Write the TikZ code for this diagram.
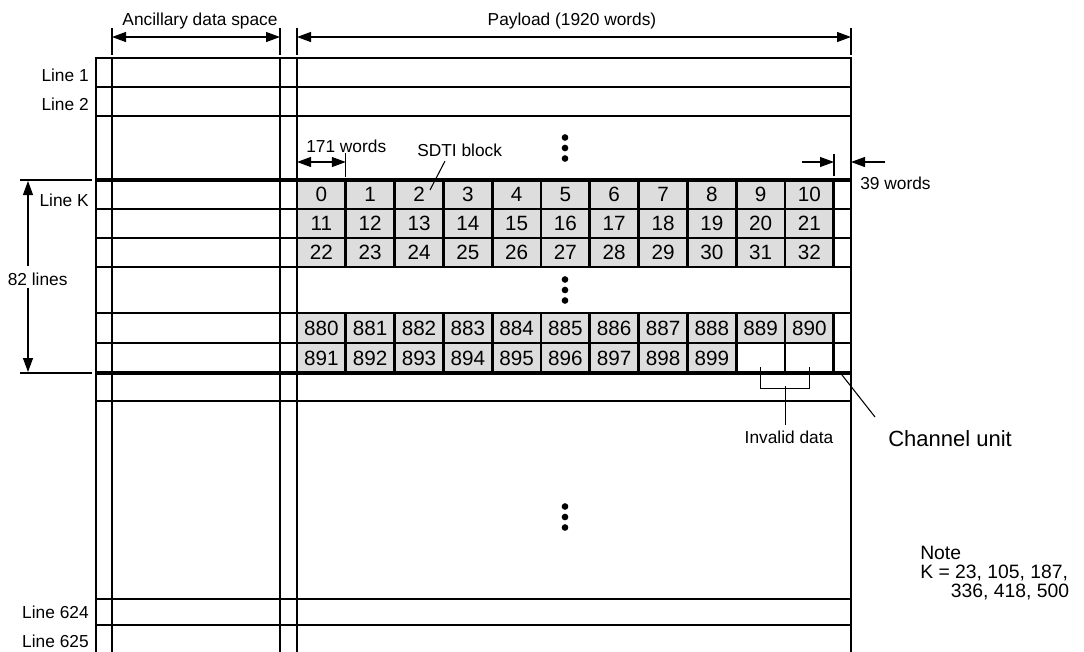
\documentclass[tikz,border=0pt]{standalone}
\usepackage{fontspec}
\setmainfont{Liberation Sans}
\usetikzlibrary{arrows.meta}
\definecolor{cellgray}{RGB}{221,221,221}
\begin{document}
\begin{tikzpicture}[x=0.75pt,y=-0.75pt,
  gridline/.style={line width=1.2pt},
  frameline/.style={line width=1.8pt},
  bandline/.style={line width=2.4pt},
  dimline/.style={line width=0.8pt},
  onearrow/.style={dimline,-{Triangle[length=10.5pt,width=7.5pt]}},
  twoarrow/.style={dimline,{Triangle[length=10.5pt,width=7.5pt]}-{Triangle[length=10.5pt,width=7.5pt]}},
  cell/.style={draw,line width=2pt,fill=cellgray,minimum width=36.6pt,minimum height=21.75pt,
    inner sep=0pt,text height=11.1pt,text depth=0pt,font=\fontsize{15.5}{18}\selectfont},
  lowcell/.style={cell,minimum height=22.5pt},
  lbl/.style={font=\fontsize{13}{15}\selectfont,inner sep=0pt},
  dot/.style={circle,fill=black,inner sep=0pt,minimum size=5pt},
]
\useasboundingbox (0,0) rectangle (1084,651);

% horizontal grid lines
\foreach \yy in {87,116,209,238,267,313,343,401,599,625}{
  \draw[gridline] (96,\yy) -- (851,\yy);
}
% vertical grid lines
\foreach \xx in {112,280,297}{
  \draw[gridline] (\xx,58) -- (\xx,652);
}
% outer frame
\draw[frameline] (96,652) -- (96,58) -- (851,58) -- (851,652);

% cells
\foreach \i in {0,...,10}{
  \pgfmathsetmacro\cx{297+(\i+0.5)*48.8}
  \pgfmathtruncatemacro\na{\i}
  \pgfmathtruncatemacro\nb{\i+11}
  \pgfmathtruncatemacro\nc{\i+22}
  \pgfmathtruncatemacro\nd{\i+880}
  \node[cell] (ra\i) at (\cx,194.5) {\na};
  \node[cell] (rb\i) at (\cx,223.5) {\nb};
  \node[cell] (rc\i) at (\cx,252.5) {\nc};
  \node[lowcell] (rd\i) at (\cx,328) {\nd};
}
\foreach \i in {0,...,8}{
  \pgfmathsetmacro\cx{297+(\i+0.5)*48.8}
  \pgfmathtruncatemacro\ne{\i+891}
  \node[lowcell] (re\i) at (\cx,358) {\ne};
}
\node[lowcell,fill=white] (re9) at ({297+9.5*48.8},358) {};
\node[lowcell,fill=white] (re10) at ({297+10.5*48.8},358) {};

% band lines
\draw[bandline] (96,180) -- (851,180);
\draw[bandline] (96,373) -- (851,373);

% line labels
\node[lbl,anchor=base east] (l1) at (89,81.5) {Line 1};
\node[lbl,anchor=base east] (l2) at (89,110.5) {Line 2};
\node[lbl,anchor=base east] (lk) at (89,206) {Line K};
\node[lbl,anchor=base east] (l624) at (89,618) {Line 624};
\node[lbl,anchor=base east] (l625) at (89,647) {Line 625};

% top dimensions
\draw[dimline] (112,28) -- (112,55);
\draw[dimline] (280,28) -- (280,55);
\draw[dimline] (297,28) -- (297,55);
\draw[dimline] (851,28) -- (851,55);
\coordinate (ancL) at (112,37);
\coordinate (ancR) at (280,37);
\coordinate (payL) at (297,37);
\coordinate (payR) at (851,37);
\draw[twoarrow] (ancL) -- (ancR);
\draw[twoarrow] (payL) -- (payR);
\node[lbl,anchor=base] (anc) at (200,25) {Ancillary data space};
\node[lbl,anchor=base] (pay) at (572,25) {Payload (1920 words)};

% 171 words
\draw[dimline] (345.8,153) -- (345.8,177);
\coordinate (w171L) at (297,162);
\coordinate (w171R) at (345.8,162);
\draw[twoarrow] (w171L) -- (w171R);
\node[lbl,anchor=base west] (t171) at (306,152) {171 words};

% SDTI block
\node[lbl,anchor=base west] (sdti) at (417,156) {SDTI block};
\coordinate (sdtiA) at (445,161);
\coordinate (sdtiB) at (430,190);
\draw[dimline] (sdtiA) -- (sdtiB);

% 39 words
\draw[dimline] (834,154) -- (834,176);
\coordinate (w39a) at (802,162);
\coordinate (w39b) at (834,162);
\coordinate (w39c) at (885,162);
\coordinate (w39d) at (851,162);
\draw[onearrow] (w39a) -- (w39b);
\draw[onearrow] (w39c) -- (w39d);
\node[lbl,anchor=base west] (t39) at (860,189) {39 words};

% 82 lines
\draw[dimline] (20,180) -- (92,180);
\draw[dimline] (20,373) -- (92,373);
\node[lbl,anchor=base west] (t82) at (7.5,285) {82 lines};
\coordinate (k82a) at (28,266);
\coordinate (k82b) at (28,181);
\coordinate (k82c) at (28,288);
\coordinate (k82d) at (28,372);
\draw[onearrow] (k82a) -- (k82b);
\draw[onearrow] (k82c) -- (k82d);

% dots
\node[dot] (d1) at (565,137.5) {};
\node[dot] (d2) at (565,148) {};
\node[dot] (d3) at (565,158.5) {};
\node[dot] (d4) at (565,279.5) {};
\node[dot] (d5) at (565,290) {};
\node[dot] (d6) at (565,300.5) {};
\node[dot] (d7) at (565,506.5) {};
\node[dot] (d8) at (565,517) {};
\node[dot] (d9) at (565,527.5) {};

% invalid data bracket
\coordinate (inv1) at (re9.center);
\coordinate (inv2) at (re10.center);
\draw[dimline] ([yshift=-7]inv1) -- ++(0,21) -| ([yshift=-7]inv2);
\coordinate (invM) at (785.2,386);
\node[lbl,anchor=base] (invt) at (789,443) {Invalid data};
\draw[dimline] (invM) -- (785.2,425);

% channel unit
\coordinate (chA) at (842,375);
\coordinate (chB) at (875,417);
\draw[dimline] (chA) -- (chB);
\node[font=\fontsize{16.5}{19}\selectfont,inner sep=0pt,anchor=base west] (chan) at (888,446) {Channel unit};

% note
\node[font=\fontsize{14.5}{13.9}\selectfont,inner sep=0pt,anchor=base west,align=left] (note) at (920,597)
  {Note\\K = 23, 105, 187,\\\hspace*{23pt}336, 418, 500};
\end{tikzpicture}
\end{document}
